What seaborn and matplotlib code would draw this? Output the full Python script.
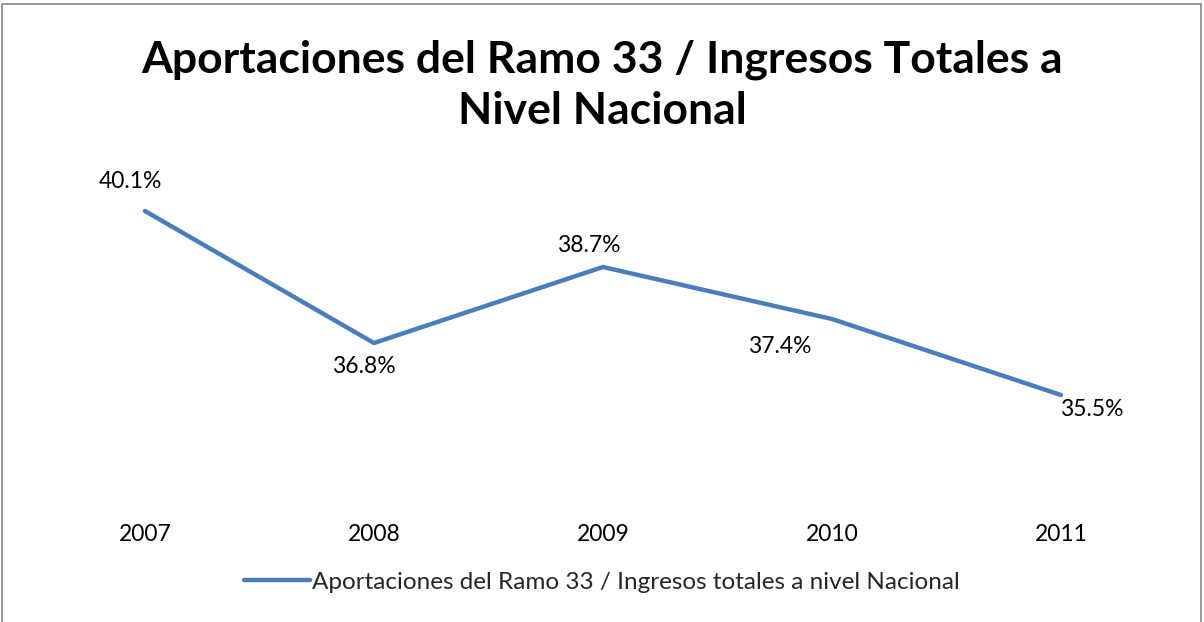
import matplotlib
matplotlib.use("Agg")
import matplotlib.pyplot as plt
import seaborn as sns
import pandas as pd
from matplotlib.patches import Rectangle

years = ["2007", "2008", "2009", "2010", "2011"]
values = [40.1, 36.8, 38.7, 37.4, 35.5]
series_name = "Aportaciones del Ramo 33 / Ingresos totales a nivel Nacional"
title = "Aportaciones del Ramo 33 / Ingresos Totales a\nNivel Nacional"

# label offsets in pixels relative to each point
label_offsets = [(-15, 30), (-10, -23), (-14, 22), (-52, -27), (31, -14)]

sns.set_theme(style="white")
plt.rcParams["font.family"] = ["Lato", "DejaVu Sans"]

df = pd.DataFrame({"year": years, "value": values, "serie": series_name})

fig = plt.figure(figsize=(12.04, 6.22), dpi=100)
ax = fig.add_axes([0.0253, 0.2042, 0.951, 0.5144])

sns.lineplot(data=df, x="year", y="value", hue="serie", palette=["#4A7EBB"],
             linewidth=3.2, ax=ax, sort=False)
ax.set_xlim(-0.5, 4.5)
ax.set_ylim(33, 41)

for i, (v, (dx, dy)) in enumerate(zip(values, label_offsets)):
    ax.annotate(f"{v:.1f}%", (i, v), xytext=(dx, dy), textcoords="offset pixels",
                ha="center", va="center", fontsize=16.5, color="black")

ax.set_yticks([])
ax.tick_params(axis="x", length=0, labelsize=16.5, pad=21, colors="black")
ax.set_xlabel("")
ax.set_ylabel("")
for s in ax.spines.values():
    s.set_visible(False)

leg = ax.legend(loc="center", frameon=False, fontsize=17.5,
                handlelength=2.7, handletextpad=0.1)
leg.set_bbox_to_anchor((0.5, 1 - 582 / 622), transform=fig.transFigure)
for line in leg.get_lines():
    line.set_linewidth(3.2)
    line.set_solid_capstyle("round")

fig.text(0.5, 1 - 85 / 622, title, ha="center", va="center", fontsize=32,
         fontweight="bold", linespacing=1.33, color="black")

# outer border of the chart area
fig.patches.append(Rectangle((2 / 1204, -0.05), 1199 / 1204, 1.05 - 4 / 622,
                             transform=fig.transFigure, fill=False,
                             edgecolor="#878787", linewidth=1.2))

fig.savefig("out.png", dpi=100)
